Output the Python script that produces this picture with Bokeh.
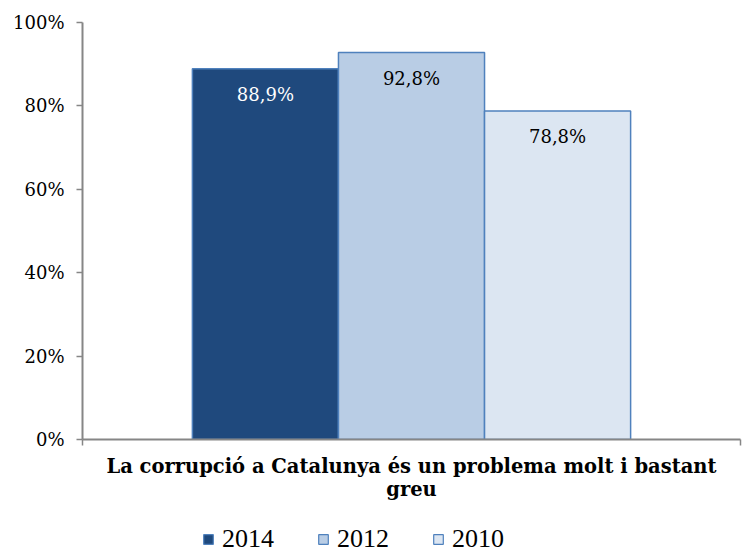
from bokeh.plotting import figure
from bokeh.models import (FixedTicker, PrintfTickFormatter, Legend, LegendItem,
                          ColumnDataSource, Range1d, LinearAxis)
from bokeh.layouts import column
from bokeh.embed import file_html
from bokeh.resources import INLINE
from bokeh.core.properties import value

years = ["2014", "2012", "2010"]
values = [88.9, 92.8, 78.8]
labels = ["88,9%", "92,8%", "78,8%"]
fills = ["#1F497D", "#B9CDE5", "#DCE6F2"]
label_colors = ["white", "black", "black"]
category_line1 = "La corrupció a Catalunya és un problema molt i bastant"
category_line2 = "greu"
yticks = [0, 20, 40, 60, 80, 100]

bar_w = 0.222
xs = [0.5 + (i - 1) * bar_w for i in range(len(years))]
edge = "#4F81BD"
axis_gray = "#868686"
serif = "DejaVu Serif"

p = figure(width=742, height=503, output_backend="svg", toolbar_location=None,
           x_range=Range1d(0, 1), y_range=Range1d(0, 100),
           min_border_left=82, min_border_right=2, min_border_top=22, min_border_bottom=63,
           x_axis_location=None, y_axis_location=None)
p.outline_line_color = None
p.xgrid.visible = False
p.ygrid.visible = False

for i, y in enumerate(years):
    src = ColumnDataSource(dict(x=[xs[i]], top=[values[i]], lab=[labels[i]]))
    p.vbar(x="x", top="top", width=bar_w, bottom=0, source=src,
           fill_color=fills[i], line_color=edge, line_width=1.5)
    p.text(x="x", y="top", text="lab", source=src, y_offset=26,
           text_align="center", text_baseline="middle",
           text_font=value(serif), text_font_size="18px", text_color=label_colors[i])

yax = LinearAxis(ticker=FixedTicker(ticks=yticks),
                 formatter=PrintfTickFormatter(format="%d%%"))
yax.axis_line_color = axis_gray
yax.axis_line_width = 2
yax.major_tick_line_color = axis_gray
yax.major_tick_line_width = 1.5
yax.major_tick_out = 6
yax.major_tick_in = 0
yax.minor_tick_line_color = None
yax.major_label_text_font = serif
yax.major_label_text_font_size = "18px"
yax.major_label_text_color = "black"
yax.major_label_standoff = 12
p.add_layout(yax, "left")

xax = LinearAxis(ticker=FixedTicker(ticks=[0.5], minor_ticks=[0, 1]))
xax.axis_line_color = axis_gray
xax.axis_line_width = 2
xax.major_tick_line_color = None
xax.major_tick_out = 0
xax.major_tick_in = 0
xax.minor_tick_line_color = axis_gray
xax.minor_tick_line_width = 1.5
xax.minor_tick_out = 6
xax.minor_tick_in = 0
xax.major_label_overrides = {0.5: category_line1}
xax.major_label_text_font = serif
xax.major_label_text_font_style = "bold"
xax.major_label_text_font_size = "19.5px"
xax.major_label_text_color = "black"
xax.major_label_standoff = 9
xax.axis_label = category_line2
xax.axis_label_text_font = serif
xax.axis_label_text_font_style = "bold"
xax.axis_label_text_font_size = "19.5px"
xax.axis_label_text_color = "black"
xax.axis_label_standoff = -3
p.add_layout(xax, "below")

# legend strip
lg = figure(width=742, height=51, output_backend="svg", toolbar_location=None,
            x_range=Range1d(0, 1), y_range=Range1d(1, 2),
            min_border_left=0, min_border_right=0, min_border_top=0, min_border_bottom=0,
            x_axis_location=None, y_axis_location=None)
lg.outline_line_color = None
lg.xgrid.visible = False
lg.ygrid.visible = False
items = []
for i, y in enumerate(years):
    # zero-height proxy bar (outside the visible y range) used only for the legend swatch
    r = lg.vbar(x=[0.5], top=[0], bottom=0, width=0.1,
                fill_color=fills[i], line_color=edge, line_width=1.2)
    items.append(LegendItem(label=y, renderers=[r]))
legend = Legend(items=items, location=(120, 0), orientation="horizontal")
legend.glyph_width = 12
legend.glyph_height = 12
legend.label_standoff = 8
legend.spacing = 43
legend.padding = 0
legend.margin = 0
legend.border_line_color = None
legend.background_fill_alpha = 0
legend.label_text_font = "Liberation Serif"
legend.label_text_font_size = "26px"
legend.label_text_color = "black"
lg.add_layout(legend, "center")

layout = column(p, lg, spacing=0)
open("out.html", "w").write(file_html(layout, INLINE))
